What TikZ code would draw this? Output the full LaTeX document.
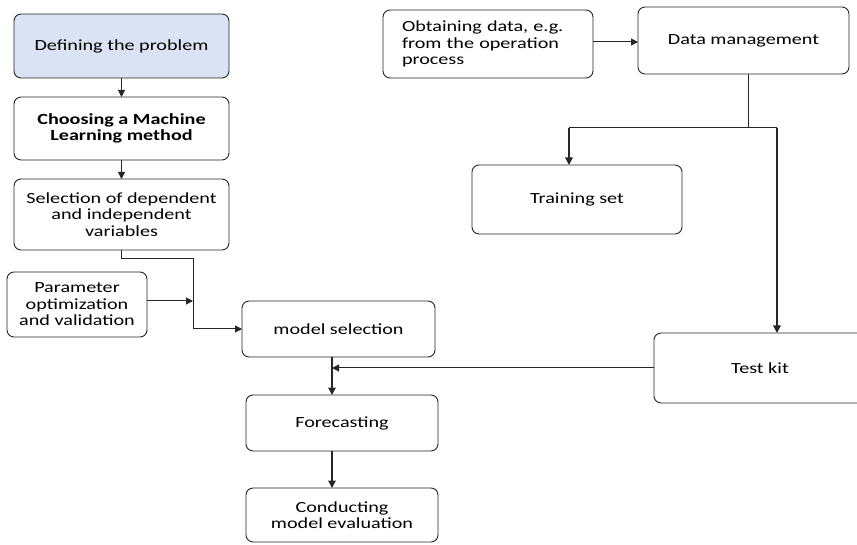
\documentclass[tikz,border=0pt]{standalone}
\usepackage{fontspec}
\setmainfont{Carlito}[FakeStretch=1.3]
\usepackage{xcolor}
\usepackage{tikz}
\usetikzlibrary{calc,arrows.meta}
\definecolor{linec}{HTML}{262626}
\definecolor{headbg}{HTML}{DAE3F3}
\tikzset{
  ar/.style={-{Triangle[length=7pt,width=7pt]},line width=1pt,linec},
  arb/.style={-{Triangle[length=7.5pt,width=7.5pt]},line width=1.5pt,linec},
  ln/.style={line width=1pt,linec},
  box/.style={draw=linec,line width=0.9pt,rounded corners=7pt,fill=white,align=center,
    inner sep=0pt,outer sep=0pt,font=\fontsize{15.5}{16.5}\selectfont}
}
\begin{document}
\begin{tikzpicture}[x=1pt,y=-1pt]
\clip (0,0) rectangle (857,545);
\fill[white] (0,0) rectangle (857,545);
% left column
\node[box,fill=headbg,minimum width=215pt,minimum height=64pt] (prob) at (121.5,46) {Defining the problem};
\node[box,minimum width=215pt,minimum height=63pt,font=\fontsize{15.5}{16.5}\selectfont\bfseries] (meth) at (121.5,128.5) {Choosing a Machine\\Learning method};
\node[box,minimum width=215pt,minimum height=71pt] (vars) at (121.5,214.5) {Selection of dependent\\and independent\\variables};
\node[box,minimum width=140pt,minimum height=65pt] (param) at (77,304.5) {Parameter\\optimization\\and validation};
\node[box,minimum width=193pt,minimum height=56pt] (msel) at (338.5,329) {model selection};
\node[box,minimum width=192pt,minimum height=56pt] (fore) at (342,423) {Forecasting};
\node[box,minimum width=192pt,minimum height=54pt] (eval) at (342,515) {Conducting\\model evaluation};
% right column
\node[box,minimum width=210pt,minimum height=68pt,text width=172pt,align=left,inner xsep=19pt] (obt) at (488,44) {Obtaining data, e.g.\\from the operation\\process};
\node[box,minimum width=211pt,minimum height=67pt] (dm) at (743.5,40.5) {Data management};
\node[box,minimum width=210pt,minimum height=69pt] (train) at (577,199.5) {Training set};
\node[box,minimum width=212pt,minimum height=70pt] (test) at (760,368) {Test kit};
% junctions
\coordinate (jn) at (193,259);
\coordinate (mid) at (332,369);
\coordinate (lb) at (569,128);
\coordinate (rb) at (777,128);
\coordinate (top) at (748,128);
% connectors
\draw[ar] (prob) -- (meth);
\draw[ar] (meth) -- (vars);
\draw[ar] (vars.south) |- (jn) |- (msel.west);
\draw[ar] (param.east |- 0,301) -- (jn |- 0,301);
\draw[arb] (msel.south -| mid) -- (fore.north -| mid);
\draw[ar] (test.west) -- (test.west -| mid);
\draw[arb] (fore.south -| mid) -- (eval.north -| mid);
\draw[ar] (obt.east |- 0,42) -- (dm.west |- 0,42);
\draw[ln] (dm.south -| top) -- (top);
\draw[ln] (lb) -- (rb);
\draw[arb] (lb) -- (lb |- train.north);
\draw[arb] (rb) -- (rb |- test.north);
\end{tikzpicture}
\end{document}
